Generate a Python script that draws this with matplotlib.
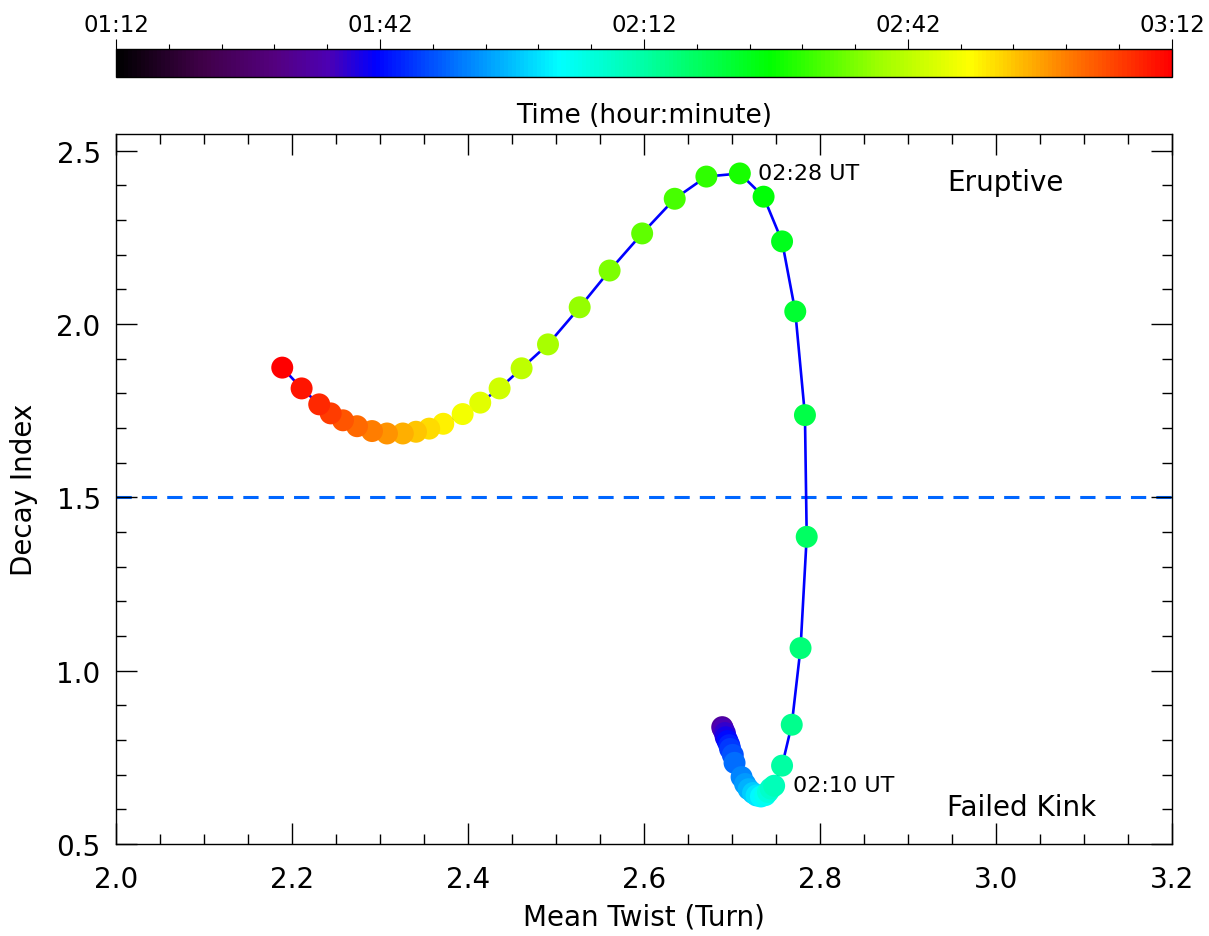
import numpy as np
import matplotlib
matplotlib.use('Agg')
import matplotlib.pyplot as plt
from matplotlib.colors import LinearSegmentedColormap, Normalize
from matplotlib.ticker import MultipleLocator, FixedLocator

# time of each snapshot (UT, hour:minute)
times = ['01:34', '01:36', '01:38', '01:40', '01:42', '01:44', '01:46', '01:48',
         '01:50', '01:52', '01:54', '01:56', '01:58', '02:00', '02:02', '02:04',
         '02:06', '02:08', '02:10', '02:12', '02:14', '02:16', '02:18', '02:20',
         '02:22', '02:24', '02:26', '02:28', '02:30', '02:32', '02:34', '02:36',
         '02:38', '02:40', '02:42', '02:44', '02:46', '02:48', '02:50', '02:52',
         '02:54', '02:56', '02:58', '03:00', '03:02', '03:04', '03:06', '03:08',
         '03:10', '03:12']

mean_twist = [2.689, 2.690, 2.692, 2.693, 2.695, 2.697, 2.698, 2.701,
              2.703, 2.711, 2.715, 2.719, 2.724, 2.728, 2.733, 2.738,
              2.741, 2.744, 2.748, 2.757, 2.768, 2.778, 2.785, 2.783,
              2.772, 2.757, 2.736, 2.709, 2.671, 2.635, 2.598, 2.561,
              2.527, 2.491, 2.461, 2.436, 2.414, 2.394, 2.372, 2.356,
              2.341, 2.326, 2.308, 2.291, 2.274, 2.258, 2.244, 2.231,
              2.211, 2.189]

decay_index = [0.837, 0.831, 0.820, 0.808, 0.797, 0.785, 0.774, 0.757,
               0.734, 0.693, 0.673, 0.658, 0.647, 0.640, 0.637, 0.641,
               0.650, 0.660, 0.668, 0.726, 0.844, 1.065, 1.386, 1.737,
               2.036, 2.238, 2.367, 2.434, 2.425, 2.361, 2.261, 2.154,
               2.048, 1.941, 1.872, 1.814, 1.773, 1.740, 1.712, 1.698,
               1.689, 1.684, 1.684, 1.691, 1.705, 1.722, 1.742, 1.768,
               1.814, 1.874]

cbar_ticks = ['01:12', '01:42', '02:12', '02:42', '03:12']


def to_min(s):
    h, m = s.split(':')
    return int(h) * 60 + int(m)


t_min = np.array([to_min(s) for s in times])
tick_min = [to_min(s) for s in cbar_ticks]

# IDL-like rainbow table
cmap = LinearSegmentedColormap.from_list('idl_rainbow', [
    (0.00, (0.0, 0.0, 0.0)),
    (0.08, (0.25, 0.0, 0.28)),
    (0.15, (0.33, 0.0, 0.50)),
    (0.20, (0.30, 0.0, 0.70)),
    (0.245, (0.0, 0.0, 1.0)),
    (0.33, (0.0, 0.5, 1.0)),
    (0.42, (0.0, 1.0, 1.0)),
    (0.50, (0.0, 1.0, 0.65)),
    (0.62, (0.0, 1.0, 0.0)),
    (0.72, (0.6, 1.0, 0.0)),
    (0.81, (1.0, 1.0, 0.0)),
    (0.90, (1.0, 0.5, 0.0)),
    (1.00, (1.0, 0.0, 0.0)),
])
norm = Normalize(tick_min[0], tick_min[-1])

plt.rcParams['font.family'] = 'DejaVu Sans'

fig = plt.figure(figsize=(12.09, 9.37), dpi=100)
ax = fig.add_axes([0.0959, 0.0982, 0.8734, 0.7578])
cax = fig.add_axes([0.0959, 0.9168, 0.8734, 0.0299])

ax.axhline(1.5, color='#0066ff', lw=2.2, ls=(0, (5, 3.3)), zorder=1)
ax.plot(mean_twist, decay_index, color='#0000ff', lw=1.9, zorder=2)
ax.scatter(mean_twist, decay_index, c=t_min, cmap=cmap, norm=norm,
           s=250, edgecolors='none', zorder=3)

ax.text(2.7295, 2.434, '02:28 UT', fontsize=16, va='center', ha='left')
ax.text(2.769, 0.670, '02:10 UT', fontsize=16, va='center', ha='left')
ax.text(2.945, 2.408, 'Eruptive', fontsize=20, va='center', ha='left')
ax.text(2.945, 0.607, 'Failed Kink', fontsize=20, va='center', ha='left')

ax.set_xlim(2.0, 3.2)
ax.set_ylim(0.5, 2.548)
ax.xaxis.set_major_locator(MultipleLocator(0.2))
ax.xaxis.set_minor_locator(MultipleLocator(0.05))
ax.yaxis.set_major_locator(FixedLocator([0.5, 1.0, 1.5, 2.0, 2.5]))
ax.yaxis.set_minor_locator(MultipleLocator(0.1))
ax.xaxis.set_major_formatter(plt.FormatStrFormatter('%.1f'))
ax.yaxis.set_major_formatter(plt.FormatStrFormatter('%.1f'))
ax.tick_params(which='both', direction='in', top=True, right=True, width=1.0)
ax.tick_params(which='major', length=15, labelsize=20)
ax.tick_params(which='minor', length=7.5)
ax.tick_params(axis='x', which='major', pad=15)
ax.tick_params(axis='y', which='major', pad=11)
for sp in ax.spines.values():
    sp.set_linewidth(1.0)
ax.set_xlabel('Mean Twist (Turn)', fontsize=20, labelpad=7)
ax.set_ylabel('Decay Index', fontsize=20, labelpad=13)

sm = plt.cm.ScalarMappable(norm=norm, cmap=cmap)
cb = fig.colorbar(sm, cax=cax, orientation='horizontal')
cb.outline.set_linewidth(1.0)
cax.xaxis.set_ticks_position('top')
cax.xaxis.set_label_position('bottom')
cb.set_ticks(tick_min)
cb.set_ticklabels(cbar_ticks)
cax.xaxis.set_minor_locator(MultipleLocator(6))
cax.tick_params(which='both', direction='out', width=0.8, labelsize=16.5)
cax.tick_params(which='major', length=7, pad=2)
cax.tick_params(which='minor', length=3.5)
cax.set_xlabel('Time (hour:minute)', fontsize=19, labelpad=18)

fig.savefig('out.png', dpi=100)
